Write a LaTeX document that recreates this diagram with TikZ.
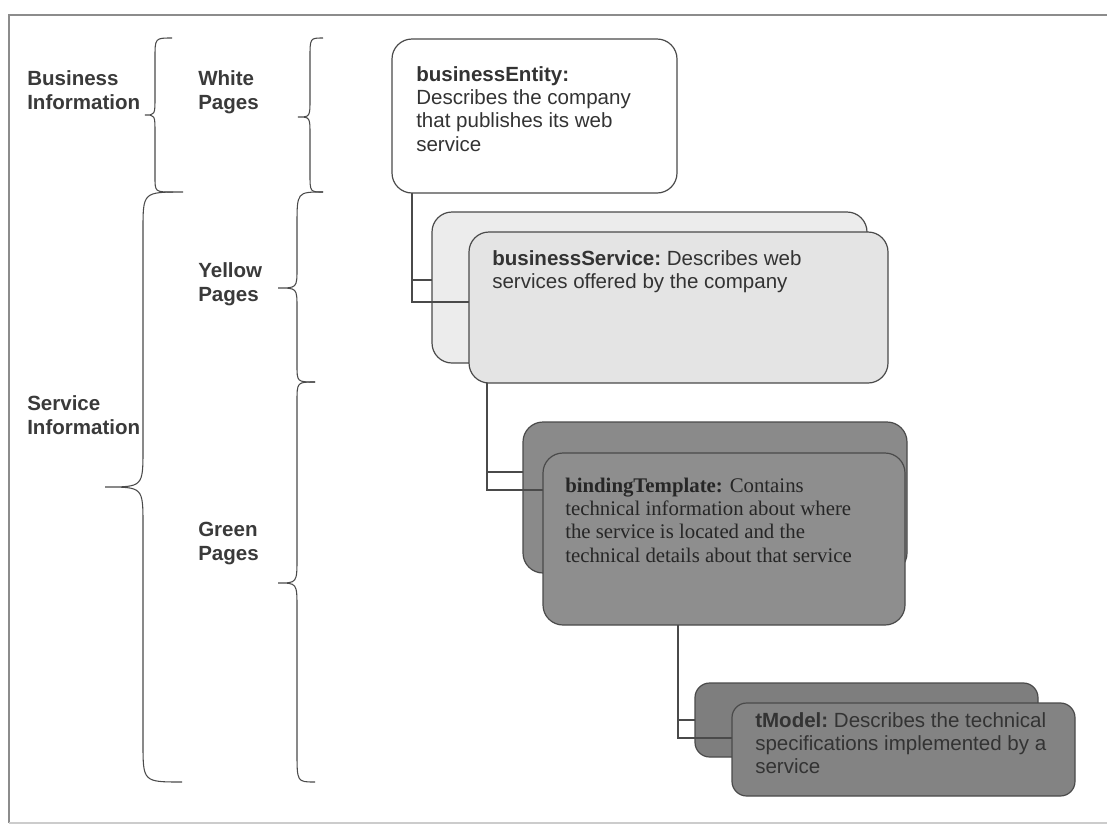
\documentclass[tikz,border=0pt]{standalone}
\usepackage{fontspec}
\setmainfont{Liberation Sans}
\newfontfamily\serifbody{Liberation Serif}
\usetikzlibrary{calc,fit}

\definecolor{ink}{HTML}{333333}
\definecolor{labelink}{HTML}{3A3A3A}
\definecolor{edge}{HTML}{4A4A4A}
\definecolor{framegray}{HTML}{8C8C8C}
\definecolor{svcback}{HTML}{ECECEC}
\definecolor{svcfront}{HTML}{E4E4E4}
\definecolor{bindback}{HTML}{8A8A8A}
\definecolor{bindfront}{HTML}{8E8E8E}
\definecolor{tmback}{HTML}{7E7E7E}
\definecolor{tmfront}{HTML}{838383}

\tikzset{
  card/.style={draw=edge, line width=0.9pt, rounded corners=15pt, inner sep=0pt, outer sep=0pt},
  smallcard/.style={card, rounded corners=11pt},
  conn/.style={draw=edge, line width=0.8pt},
  bracepen/.style={draw=edge, line width=0.8pt},
  sidelabel/.style={anchor=base west, inner sep=0pt, text=labelink},
  cardtext/.style={anchor=base west, inner sep=0pt, text=ink},
}
\newcommand\cardpar[2]{\parbox[t]{#1}{\fontsize{15.4}{17.6}\selectfont\raggedright #2}}
\newcommand\sidepar[1]{\parbox[t]{120pt}{\fontsize{15.4}{18.4}\selectfont\bfseries\raggedright #1}}

\begin{document}
\begin{tikzpicture}[x=0.75pt,y=-0.75pt]
\useasboundingbox (0,0) rectangle (1107,825);

% outer frame
\draw[framegray, line width=1.1pt] (9,823) -- (9,15) -- (1107,15);
\draw[black!20, line width=0.8pt] (9,823) -- (1107,823);

% left column labels
\node[sidelabel] (bizinfo) at (27,85)  {\sidepar{Business\\Information}};
\node[sidelabel] (svcinfo) at (27,410) {\sidepar{Service\\Information}};
\node[sidelabel] (white)   at (198,85) {\sidepar{White\\Pages}};
\node[sidelabel] (yellow)  at (198,277) {\sidepar{Yellow\\Pages}};
\node[sidelabel] (green)   at (198,536) {\sidepar{Green\\Pages}};

% curly braces
% Business Information
\draw[bracepen] (172,38) .. controls (155,38) .. (155,58) -- (155,97)
  .. controls (155,115) .. (145,115) .. controls (155,115) .. (155,133)
  -- (155,177) .. controls (155,192) .. (173,192);
% Service Information
\draw[bracepen] (183,192) .. controls (143,192) .. (143,230) -- (143,449)
  .. controls (143,487) .. (105,487) .. controls (143,487) .. (143,525)
  -- (143,743) .. controls (143,782) .. (182,782);
% White Pages
\draw[bracepen] (323,38) .. controls (310,38) .. (310,58) -- (310,99)
  .. controls (310,117) .. (298,117) .. controls (310,117) .. (310,135)
  -- (310,174) .. controls (310,192) .. (323,192);
% Yellow Pages
\draw[bracepen] (323,192) .. controls (297,192) .. (297,225) -- (297,268)
  .. controls (297,288) .. (278,288) .. controls (297,288) .. (297,308)
  -- (297,365) .. controls (297,382) .. (315,382);
% Green Pages
\draw[bracepen] (315,382) .. controls (297,382) .. (297,402) -- (297,558)
  .. controls (297,583) .. (278,583) .. controls (297,583) .. (297,608)
  -- (297,752) .. controls (297,782) .. (315,782);

% businessEntity
\node[card, fill=white, fit={(392,39) (677,193)}] (ent) {};
\node[cardtext] (enttxt) at (416,81) {\cardpar{300pt}{\textbf{businessEntity:}\\
  Describes the company\\that publishes its web\\service}};

% businessService (stacked)
\node[card, fill=svcback, fit={(432,212) (867,363)}] (svcB) {};
\node[card, fill=svcfront, fit={(469,232) (888,383)}] (svcF) {};
\node[cardtext] (svctxt) at (492,265) {\cardpar{320pt}{\textbf{businessService:}~Describes web\\
  services offered by the company}};

% bindingTemplate (stacked)
\node[card, fill=bindback, fit={(523,422) (907,573)}] (bindB) {};
\node[card, fill=bindfront, fit={(543,453) (905,625)}] (bindF) {};
\node[cardtext, text=black!85] (bindtxt) at (565,492) {\parbox[t]{300pt}{\serifbody\fontsize{15.6}{17.5}\selectfont\raggedright
  \textbf{bindingTemplate:} Contains\\technical information about where\\
  the service is located and the\\technical details about that service}};

% tModel (stacked)
\node[smallcard, fill=tmback, fit={(695,683) (1038,757)}] (tmB) {};
\node[smallcard, fill=tmfront, fit={(732,703) (1075,796)}] (tmF) {};
\node[cardtext] (tmtxt) at (755,727) {\cardpar{300pt}{\textbf{tModel:}~Describes the technical\\
  specifications implemented by a\\service}};

% tree connectors: entity -> service
\coordinate (v1) at ($(ent.south west)+(20,0)$);
\coordinate (h1b) at ($(svcB.north west)+(0,68)$);
\coordinate (h1f) at ($(svcF.north west)+(0,70)$);
\draw[conn] (v1) |- (h1f);
\draw[conn] (h1b -| v1) -- (h1b);

% service -> binding
\coordinate (v2) at ($(svcF.south west)+(18,0)$);
\coordinate (h2b) at ($(bindB.north west)+(0,50)$);
\coordinate (h2f) at ($(bindF.north west)+(0,37)$);
\draw[conn] (v2) |- (h2f);
\draw[conn] (h2b -| v2) -- (h2b);

% binding -> tModel
\coordinate (v3) at ($(bindF.south west)+(135,0)$);
\coordinate (h3b) at ($(tmB.north west)+(0,37)$);
\coordinate (h3f) at ($(tmF.north west)+(0,35)$);
\draw[conn] (v3) |- (h3f);
\draw[conn] (h3b -| v3) -- (h3b);
\end{tikzpicture}
\end{document}
